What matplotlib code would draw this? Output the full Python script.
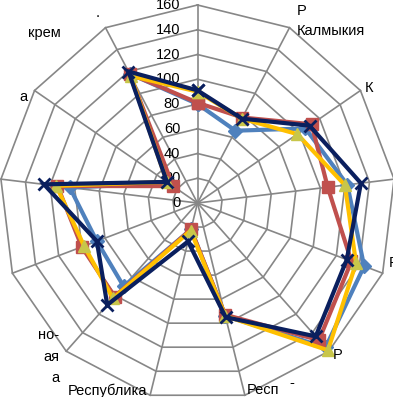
import numpy as np
import matplotlib.pyplot as plt

# values, clockwise from the top spoke
blue = [80, 66, 106, 122, 144, 156, 94, 22, 90, 87, 104, 28, 118]
red = [81, 78, 112, 106, 133, 148, 93, 22, 101, 100, 114, 24, 118]
yellow = [90, 77, 98, 120, 137, 159, 94, 23, 103, 98, 115, 30, 116]
navy = [91, 77, 110, 133, 129, 144, 95, 32, 110, 87, 125, 30, 120]
ticks = [0, 20, 40, 60, 80, 100, 120, 140, 160]

# visible fragments of the category labels (rest is cut off in the source)
frags = [("Р", 297, 11, 'left'), ("Калмыкия", 297, 31, 'left'),
         ("К", 365, 88, 'left'), ("Р", 389, 263, 'left'),
         ("Р", 333, 355, 'left'), ("Респ", 247, 390, 'left'),
         ("-", 289, 383, 'left'), ("Республика", 147, 391, 'right'),
         ("но-", 59, 335, 'right'), ("ая", 59, 357, 'right'),
         ("а", 59, 378, 'right'), ("а", 28, 97, 'right'),
         ("крем", 61, 33, 'right'), (".", 100, 13, 'right')]

plt.rcParams['font.family'] = ['Liberation Sans', 'DejaVu Sans']

W, H = 393, 397
cx, cy = 197.5, 203
s = 198 / 160.0  # px per unit

fig = plt.figure(figsize=(W / 100, H / 100), dpi=100)
ax = fig.add_axes([0, 0, 1, 1])
ax.set_xlim(-cx / s, (W - cx) / s)
ax.set_ylim(-(H - cy) / s, cy / s)
ax.axis('off')

n = len(blue)
ang = np.arange(n) * 2 * np.pi / n
sx, sy = np.sin(ang), np.cos(ang)

def xy(vals):
    v = np.array(vals + vals[:1], dtype=float)
    return v * np.append(sx, sx[0]), v * np.append(sy, sy[0])

gc = '#878787'
for v in ticks[1:]:
    px, py = xy([v] * n)
    ax.plot(px, py, color=gc, lw=1.2, zorder=1)
for i in range(n):
    ax.plot([0, 160 * sx[i]], [0, 160 * sy[i]], color=gc, lw=1.2, zorder=1)

for v in ticks:
    ax.text(-14, v, str(v), ha='right', va='center', fontsize=10.5, color='black', zorder=2)

series = [(blue, '#4F81BD', 'D', 7, '#4F81BD'),
          (red, '#C0504D', 's', 8, '#C0504D'),
          (yellow, '#FFC000', '^', 8, '#C8C64A'),
          (navy, '#0A1F5E', 'x', 9, '#0A1F5E')]
for k, (vals, col, mk, ms, mc) in enumerate(series):
    px, py = xy(vals)
    ax.plot(px, py, color=col, lw=3, marker=mk, ms=ms, mfc=mc, mec=mc,
            mew=2 if mk == 'x' else 1, zorder=3 + k, solid_joinstyle='miter')

for t, x, y, ha in frags:
    fig.text(x / W, 1 - y / H, t, ha=ha, va='center', fontsize=10.5)

fig.savefig('out.png', dpi=100)
